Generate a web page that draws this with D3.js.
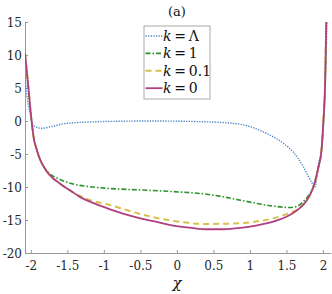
<!DOCTYPE html>
<html>
<head>
<meta charset="utf-8">
<script src="https://cdn.jsdelivr.net/npm/d3@7"></script>
<style>
  body { margin: 0; background: #fff; }
  svg { display: block; font-family: "DejaVu Serif", serif; }
</style>
</head>
<body>
<div id="wrapper"></div>
<script>
// data
const xTicks = [-2, -1.5, -1, -0.5, 0, 0.5, 1, 1.5, 2]
const yTicks = [-20, -15, -10, -5, 0, 5, 10, 15]

const chiLambda = [-2.08, -2.057, -2.01, -1.97, -1.92, -1.85, -1.7, -1.51, -1.05, -0.37, 0.32, 0.77, 1.0, 1.23, 1.46, 1.6, 1.73, 1.85, 1.89, 1.94, 1.98, 2.005, 2.03, 2.055]
const valLambda = [7, 4.2, 1.2, -0.6, -0.95, -1.1, -0.8, -0.35, -0.1, 0, -0.1, -0.35, -0.85, -1.9, -3.4, -4.8, -6.9, -9.4, -10.0, -6.4, -4.4, -1, 5, 15]

const chiK1 = [-2.08, -2.035, -1.99, -1.96, -1.92, -1.875, -1.82, -1.75, -1.6, -1.42, -1.2, -0.96, -0.5, -0.05, 0.41, 0.87, 1.1, 1.32, 1.55, 1.65, 1.73, 1.82, 1.87, 1.94, 1.98, 2.006, 2.03, 2.045]
const valK1 = [10.3, 5.2, 0, -2.6, -4.3, -5.8, -7.0, -7.9, -8.85, -9.55, -9.95, -10.2, -10.45, -10.7, -11.1, -12.0, -12.5, -12.9, -13.1, -12.9, -12.2, -11.0, -9.95, -6.9, -4.4, 0, 6, 15]

const chiK01 = [-2.08, -2.035, -1.99, -1.96, -1.92, -1.875, -1.82, -1.75, -1.6, -1.46, -1.19, -0.96, -0.5, -0.05, 0.41, 0.87, 1.1, 1.32, 1.5, 1.7, 1.78, 1.87, 1.94, 1.98, 2.006, 2.03, 2.045]
const valK01 = [10.3, 5.2, 0, -2.6, -4.3, -5.8, -7.0, -8.1, -9.5, -10.55, -12.0, -12.6, -14.1, -15.15, -15.6, -15.5, -15.2, -14.75, -14.1, -13.0, -12.0, -9.95, -6.9, -4.4, 0, 6, 15]

const chiK0 = [-2.08, -2.035, -1.99, -1.96, -1.92, -1.875, -1.82, -1.75, -1.6, -1.45, -1.33, -1.15, -0.96, -0.75, -0.5, -0.25, -0.05, 0.2, 0.41, 0.64, 0.87, 1.1, 1.32, 1.55, 1.7, 1.78, 1.87, 1.94, 1.98, 2.006, 2.03, 2.045]
const valK0 = [10.3, 5.2, 0, -2.6, -4.3, -5.8, -7.0, -8.1, -9.5, -10.6, -11.5, -12.4, -13.2, -14.0, -14.75, -15.35, -15.85, -16.2, -16.4, -16.4, -16.2, -15.8, -15.25, -14.2, -13.0, -12.0, -9.95, -6.9, -4.4, 0, 6, 15]

const seriesNames = ["Λ", "1", "0.1", "0"]

const width = 332
const height = 294
const margin = {top: 22, right: 1, bottom: 41, left: 25}

const svg = d3.select("#wrapper")
    .append("svg")
    .attr("width", width)
    .attr("height", height)

const xScale = d3.scaleLinear()
    .domain([-2.08, 2.11])
    .range([margin.left, width - margin.right])
const yScale = d3.scaleLinear()
    .domain([-20, 15])
    .range([height - margin.bottom, margin.top])

const fmt = d => String(d)

//axes
const xAxis = svg.append("g")
    .attr("transform", `translate(0, ${height - margin.bottom})`)
    .call(d3.axisBottom(xScale).tickValues(xTicks).tickSizeInner(-3).tickSizeOuter(0).tickPadding(8).tickFormat(fmt))
const yAxis = svg.append("g")
    .attr("transform", `translate(${margin.left}, 0)`)
    .call(d3.axisLeft(yScale).tickValues(yTicks).tickSizeInner(-3).tickSizeOuter(0).tickPadding(3).tickFormat(fmt))

;[xAxis, yAxis].forEach(ax => {
  ax.select(".domain").attr("stroke", "#999")
  ax.selectAll(".tick line").attr("stroke", "#999")
  ax.selectAll(".tick text")
      .attr("fill", "#262626")
      .style("font-size", "12px")
      .style("font-family", "'DejaVu Serif', serif")
})
yAxis.selectAll(".tick text").attr("dy", "0.35em")

//clip
svg.append("clipPath").attr("id", "clip")
  .append("rect")
    .attr("x", margin.left)
    .attr("y", margin.top)
    .attr("width", width - margin.left - margin.right)
    .attr("height", height - margin.top - margin.bottom)

const styles = [
  {color: "#4a86c8", dash: "1.3,1.3", w: 1.4},
  {color: "#2a942a", dash: "5,2,1.5,2", w: 1.6},
  {color: "#d8c04a", dash: "6,4", w: 2},
  {color: "#b03f80", dash: null, w: 1.8},
]
const series = [
  d3.zip(chiLambda, valLambda),
  d3.zip(chiK1, valK1),
  d3.zip(chiK01, valK01),
  d3.zip(chiK0, valK0),
]

const line = d3.line()
    .x(d => xScale(d[0]))
    .y(d => yScale(d[1]))
    .curve(d3.curveMonotoneX)

const lines = svg.append("g").attr("clip-path", "url(#clip)")
series.forEach((s, i) => {
  lines.append("path")
      .attr("d", line(s))
      .attr("fill", "none")
      .attr("stroke", styles[i].color)
      .attr("stroke-width", styles[i].w)
      .attr("stroke-dasharray", styles[i].dash)
})

//legend
const legend = svg.append("g").attr("transform", "translate(144, 26)")
legend.append("rect")
    .attr("width", 66)
    .attr("height", 73)
    .attr("fill", "#fff")
    .attr("stroke", "#aaa")
    .attr("stroke-width", 1)
seriesNames.forEach((name, i) => {
  const yy = 10 + i * 17.4
  legend.append("line")
      .attr("x1", 1.5).attr("x2", 18.5)
      .attr("y1", yy).attr("y2", yy)
      .attr("stroke", styles[i].color)
      .attr("stroke-width", styles[i].w)
      .attr("stroke-dasharray", styles[i].dash)
  const t = legend.append("text")
      .attr("x", 19)
      .attr("y", yy + 5)
      .style("font-size", "14px")
      .attr("fill", "#111")
  t.append("tspan").style("font-style", "italic").text("k")
  t.append("tspan").text("\u2009=\u2009" + name)
})

//title & label
svg.append("text")
    .attr("x", 177)
    .attr("y", 16)
    .attr("text-anchor", "middle")
    .style("font-size", "13px")
    .attr("fill", "#111")
    .text("(a)")
svg.append("text")
    .attr("x", 177)
    .attr("y", 288)
    .attr("text-anchor", "middle")
    .style("font-size", "15px")
    .style("font-style", "italic")
    .attr("fill", "#111")
    .text("χ")
</script>
</body>
</html>
